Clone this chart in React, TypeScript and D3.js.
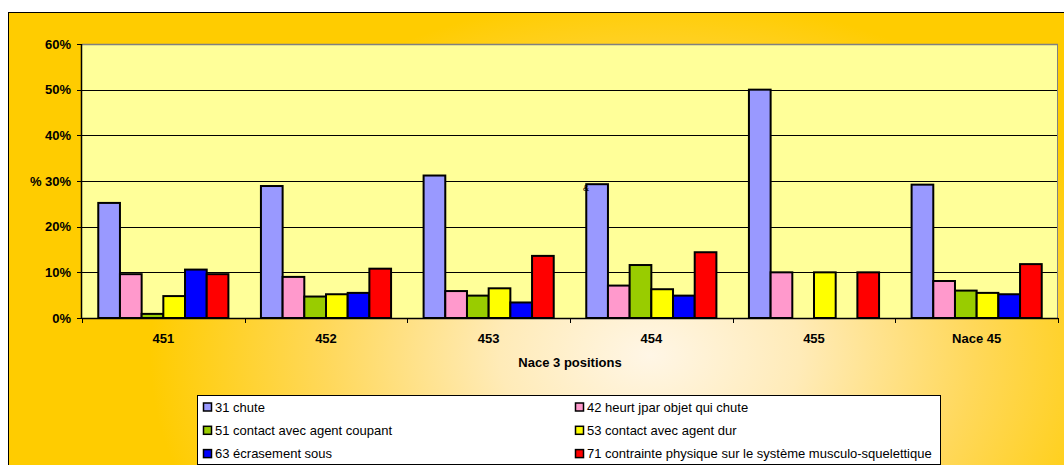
import React from "react";
import * as d3 from "d3";

// Categories (NACE 3-digit positions) and accident types
const categories = ["451", "452", "453", "454", "455", "Nace 45"];
const seriesNames = [
  "31 chute",
  "42 heurt jpar objet qui chute",
  "51 contact avec agent coupant",
  "53 contact avec agent dur",
  "63 écrasement sous",
  "71 contrainte physique sur le système musculo-squelettique",
];
const seriesColors = ["#9999FF", "#FF99CC", "#99CC00", "#FFFF00", "#0000FF", "#FF0000"];

// Shares in percent, one array per accident type (null = no bar)
const chute = [25.2, 28.9, 31.2, 29.3, 50.0, 29.2];
const heurt = [9.6, 9.0, 5.9, 7.1, 10.0, 8.1];
const coupant = [0.9, 4.7, 4.9, 11.6, null, 6.0];
const dur = [4.8, 5.2, 6.5, 6.3, 10.0, 5.5];
const ecrasement = [10.6, 5.5, 3.4, 4.9, null, 5.2];
const contrainte = [9.6, 10.8, 13.6, 14.4, 10.0, 11.8];
const seriesValues = [chute, heurt, coupant, dur, ecrasement, contrainte];

const yTicks = [0, 10, 20, 30, 40, 50, 60];

const W = 1064;
const H = 465;
const plot = { left: 82, right: 1058, top: 44, bottom: 318 };
const FONT = "'Liberation Sans', Arial, Helvetica, sans-serif";

export default function App() {
  const x0 = d3.scaleBand<string>().domain(categories).range([plot.left, plot.right]).paddingInner(0).paddingOuter(0);
  const step = x0.step();
  const barW = step / 7.5; // 150% gap width
  const y = d3.scaleLinear().domain([0, 60]).range([plot.bottom, plot.top]);

  const legendRows = [
    [0, 1],
    [2, 3],
    [4, 5],
  ];

  return (
    <svg
      width={W}
      height={H}
      style={{ position: "absolute", left: 0, top: 0, display: "block" }}
      fontFamily={FONT}
    >
      <defs>
        <radialGradient
          id="bg"
          gradientUnits="userSpaceOnUse"
          cx={650}
          cy={355}
          r={500}
          gradientTransform="translate(650 355) scale(1 0.72) translate(-650 -355)"
        >
          <stop offset="0" stopColor="#FFF6E6" />
          <stop offset="0.3" stopColor="#FFEBB8" />
          <stop offset="0.65" stopColor="#FFD85A" />
          <stop offset="1" stopColor="#FFCC00" />
        </radialGradient>
      </defs>

      {/* chart area */}
      <rect x={8.5} y={12.5} width={W + 10} height={H + 10} fill="url(#bg)" stroke="#000" strokeWidth={1} />

      {/* plot area */}
      <rect
        x={plot.left}
        y={plot.top}
        width={plot.right - plot.left}
        height={plot.bottom - plot.top}
        fill="#FFFF99"
      />

      {/* gridlines */}
      {yTicks
        .filter((t) => t > 0 && t < 60)
        .map((t) => (
          <line
            key={"g" + t}
            x1={plot.left}
            x2={plot.right}
            y1={Math.round(y(t)) + 0.5}
            y2={Math.round(y(t)) + 0.5}
            stroke="#000"
            strokeWidth={1}
          />
        ))}
      <line x1={plot.left} x2={plot.right} y1={plot.top + 0.5} y2={plot.top + 0.5} stroke="#808080" strokeWidth={1.5} />
      <line x1={plot.right - 0.5} x2={plot.right - 0.5} y1={plot.top} y2={plot.bottom} stroke="#808080" strokeWidth={1} />

      {/* bars */}
      {categories.map((c, ci) =>
        seriesValues.map((vals, si) => {
          const v = vals[ci];
          if (v == null) return null;
          const bx = (x0(c) as number) + 0.75 * barW + si * barW;
          return (
            <rect
              key={c + "-" + si}
              x={bx}
              y={y(v)}
              width={barW}
              height={y(0) - y(v)}
              fill={seriesColors[si]}
              stroke="#000"
              strokeWidth={2}
            />
          );
        })
      )}

      {/* y axis */}
      <line x1={plot.left - 0.5} x2={plot.left - 0.5} y1={plot.top} y2={plot.bottom} stroke="#000" strokeWidth={1.5} />
      {yTicks.map((t) => (
        <g key={"y" + t}>
          <line x1={plot.left - 5} x2={plot.left} y1={Math.round(y(t)) + 0.5} y2={Math.round(y(t)) + 0.5} stroke="#000" />
          <text x={71} y={y(t) + 4.5} textAnchor="end" fontSize={13} fontWeight="bold" fill="#000">
            {t + "%"}
          </text>
        </g>
      ))}
      <text x={30} y={y(30) + 4.5} fontSize={13} fontWeight="bold" fill="#000">
        %
      </text>

      {/* x axis */}
      <line x1={plot.left} x2={plot.right} y1={plot.bottom + 0.5} y2={plot.bottom + 0.5} stroke="#000" strokeWidth={1.5} />
      {categories.concat([""]).map((c, i) => {
        const tx = Math.round(plot.left + i * step) + 0.5;
        return <line key={"xt" + i} x1={tx} x2={tx} y1={plot.bottom} y2={plot.bottom + 5} stroke="#000" />;
      })}
      {categories.map((c) => (
        <text
          key={"xl" + c}
          x={(x0(c) as number) + step / 2}
          y={343}
          textAnchor="middle"
          fontSize={13}
          fontWeight="bold"
          fill="#000"
        >
          {c}
        </text>
      ))}
      <text x={(plot.left + plot.right) / 2} y={367} textAnchor="middle" fontSize={13} fontWeight="bold" fill="#000">
        Nace 3 positions
      </text>

      {/* stray mark near the 454 bar */}
      <text x={583} y={191} fontSize={9} fill="#000">
        &amp;
      </text>

      {/* legend */}
      <rect x={197.5} y={395.5} width={743} height={69} fill="#FFFFFF" stroke="#000" strokeWidth={1} />
      {legendRows.map((row, ri) =>
        row.map((si, col) => {
          const sx = col === 0 ? 203 : 575;
          const cy = 407 + ri * 23.3;
          return (
            <g key={"lg" + si}>
              <rect x={sx + 0.5} y={cy - 4} width={8} height={8} fill={seriesColors[si]} stroke="#000" strokeWidth={1.5} />
              <text x={sx + 12} y={cy + 4.5} fontSize={13} fill="#000">
                {seriesNames[si]}
              </text>
            </g>
          );
        })
      )}
    </svg>
  );
}
